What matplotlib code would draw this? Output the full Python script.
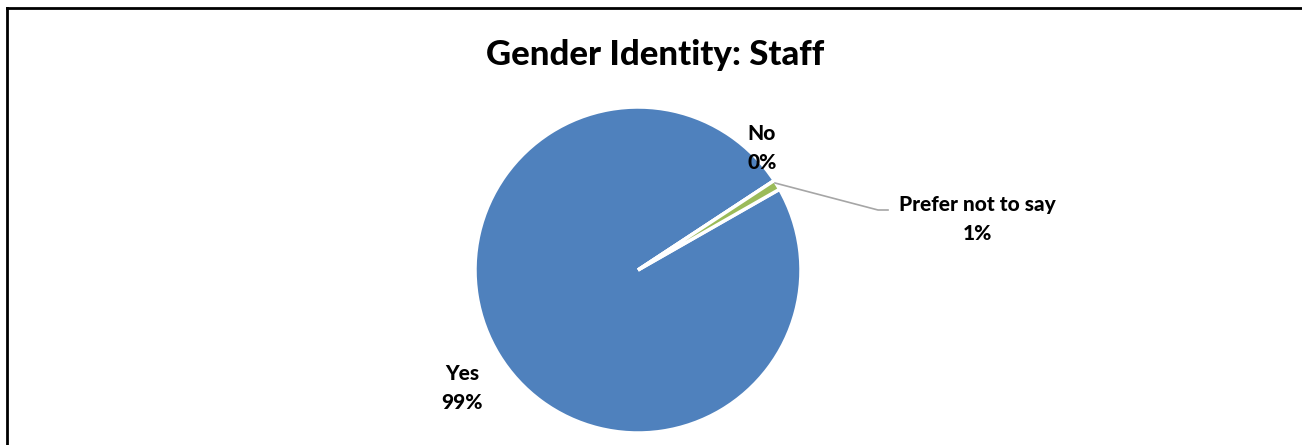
import matplotlib.pyplot as plt
from matplotlib.lines import Line2D

# data
categories = ['Yes', 'No', 'Prefer not to say']
values = [99, 0, 1]
pct_labels = ['99%', '0%', '1%']
colors = ['#4F81BD', '#C0504D', '#9BBB59']

plt.rcParams['font.family'] = ['Lato', 'DejaVu Sans']

W, H = 1302, 445
fig = plt.figure(figsize=(W / 100, H / 100), dpi=100)

# pie axes: centre ~(638,270), radius ~163 px
cx, cy, r = 638, 270, 163
ax = fig.add_axes([(cx - r) / W, 1 - (cy + r) / H, 2 * r / W, 2 * r / H])
ax.pie(values, colors=colors, startangle=29.7, counterclock=False,
       wedgeprops=dict(edgecolor='white', linewidth=2.5))
ax.set_aspect('equal')
ax.set_xlim(-1, 1)
ax.set_ylim(-1, 1)
ax.axis('off')

def px(x, y):
    return x / W, 1 - y / H

fig.text(*px(655, 55), 'Gender Identity: Staff', ha='center', va='center',
         fontsize=25, fontweight='black')

lab_kw = dict(ha='center', va='center', fontsize=15, fontweight='black',
              linespacing=1.65)
fig.text(*px(462, 388), f'{categories[0]}\n{pct_labels[0]}', **lab_kw)
fig.text(*px(762, 148), f'{categories[1]}\n{pct_labels[1]}', **lab_kw)
fig.text(*px(977, 219), f'{categories[2]}\n{pct_labels[2]}', **lab_kw)

# leader line for "Prefer not to say"
xs = [775 / W, 878 / W, 888 / W]
ys = [1 - 183 / H, 1 - 210 / H, 1 - 210 / H]
fig.add_artist(Line2D(xs, ys, color='#A6A6A6', linewidth=1.2))

# chart frame (top and left visible)
fig.add_artist(Line2D([7 / W, 1], [1 - 8 / H, 1 - 8 / H], color='black', linewidth=2))
fig.add_artist(Line2D([7 / W, 7 / W], [0, 1 - 8 / H], color='black', linewidth=2))

fig.savefig('out.png', dpi=100)
